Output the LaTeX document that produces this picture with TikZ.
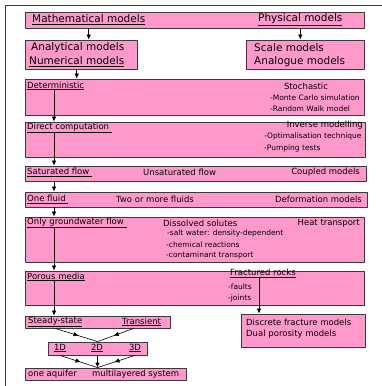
\documentclass[tikz,border=0pt]{standalone}
\usepackage{fontspec}
\setmainfont{DejaVu Sans}
\usetikzlibrary{arrows.meta,decorations.markings}
\definecolor{boxpink}{HTML}{FF99CC}
\definecolor{boxline}{HTML}{3A3A3A}
\newcommand{\bigtxt}{\fontsize{10.5}{12}\selectfont}
\newcommand{\midtxt}{\fontsize{8.5}{10}\selectfont}
\newcommand{\smalltxt}{\fontsize{7.5}{9}\selectfont}
\begin{document}
\begin{tikzpicture}[x=1pt, y=-1pt, line join=round, >={Latex[length=5pt,width=4.5pt]},
    box/.style={draw=boxline, fill=boxpink, line width=0.8pt, inner sep=0pt},
    lbl/.style={inner sep=0pt, anchor=west, font=\midtxt},
    big/.style={inner sep=0pt, anchor=west, font=\bigtxt},
    sml/.style={inner sep=0pt, anchor=west, font=\smalltxt},
    arr/.style={->, line width=0.7pt},
    midarr/.style={line width=0.6pt, decoration={markings, mark=at position 0.55 with {\arrow{>}}}, postaction={decorate}}]
\useasboundingbox (0,0) rectangle (382,386);
% frame
\draw[line width=1pt, boxline] (5,386) -- (5,5) -- (382,5);
% boxes
\node[box, minimum width=339pt, minimum height=16pt] (top) at (194.5,20) {};
\node[box, minimum width=112pt, minimum height=29pt] (ana) at (81,54.5) {};
\node[box, minimum width=118pt, minimum height=29pt] (scale) at (305,54.5) {};
\node[box, minimum width=339pt, minimum height=36pt] (det) at (194.5,97) {};
\node[box, minimum width=340pt, minimum height=35pt] (dir) at (195,139.5) {};
\node[box, minimum width=341pt, minimum height=15pt] (sat) at (195.5,173.5) {};
\node[box, minimum width=342pt, minimum height=15pt] (fluid) at (196,199.5) {};
\node[box, minimum width=339pt, minimum height=45pt] (gw) at (194.5,239.5) {};
\node[box, minimum width=339pt, minimum height=34pt] (por) at (194.5,288) {};
\node[box, minimum width=124pt, minimum height=33pt] (frac) at (303,330.5) {};
\node[box, minimum width=145pt, minimum height=12pt] (steady) at (97.5,322) {};
\node[box, minimum width=99pt, minimum height=13pt] (dim) at (97.5,348.5) {};
\node[box, minimum width=161pt, minimum height=12pt] (aq) at (105.5,374) {};
% texts
\node[big] (math) at (32,20) {\underline{Mathematical models}};
\node[big] (phys) at (258,20) {\underline{Physical models}};
\node[big] (anatxt) at (31,47.5) {Analytical models};
\node[big] (numtxt) at (29,61.5) {\underline{Numerical models}};
\node[big] (scaletxt) at (254,47.5) {Scale models};
\node[big] (analogtxt) at (254,61.5) {Analogue models};
\node[lbl] (dettxt) at (27,86) {\underline{Deterministic}};
\node[lbl, anchor=center] (stoch) at (306,86) {Stochastic};
\node[sml] (monte) at (270,98) {-Monte Carlo simulation};
\node[sml] (walk) at (270,109) {-Random Walk model};
\node[lbl] (dirtxt) at (27,128) {\underline{Direct computation\ }};
\node[lbl, anchor=east] (inv) at (363,125.5) {Inverse modelling};
\node[sml] (optim) at (264,136) {-Optimalisation technique};
\node[sml] (pump) at (264,148) {-Pumping tests};
\node[lbl] (sattxt) at (27,172.5) {\underline{Saturated flow\ }};
\node[lbl] (unsat) at (143,172.5) {Unsaturated flow};
\node[lbl, anchor=east] (coupled) at (360,172.5) {Coupled models};
\node[lbl] (onefl) at (27,199.5) {\underline{One fluid\ }};
\node[lbl] (twofl) at (116,199.5) {Two or more fluids};
\node[lbl, anchor=east] (deform) at (362,199.5) {Deformation models};
\node[lbl] (gwtxt) at (27,223) {\underline{Only groundwater flow\ }};
\node[lbl] (solutes) at (163,223) {Dissolved solutes};
\node[lbl, anchor=east] (heat) at (360,223) {Heat transport};
\node[sml] (salt) at (167,233) {-salt water: density-dependent};
\node[sml] (chem) at (166,245) {-chemical reactions};
\node[sml] (contam) at (166,255.5) {-contaminant transport};
\node[lbl] (portxt) at (27,277) {\underline{Porous media}};
\node[lbl] (fractxt) at (230,273.5) {\underline{Fractured rocks}};
\node[sml] (faults) at (228,286.5) {-faults};
\node[sml] (joints) at (228,298.5) {-joints};
\node[lbl] (discrete) at (246,322) {Discrete fracture models};
\node[lbl] (dual) at (246,334) {Dual porosity models};
\node[lbl] (sstxt) at (28,322) {\underline{Steady-state}};
\node[lbl] (trtxt) at (122,322) {\underline{Transient}};
\node[lbl, anchor=center] (d1) at (60,348) {\underline{1D}};
\node[lbl, anchor=center] (d2) at (97,348) {\underline{2D}};
\node[lbl, anchor=center] (d3) at (135,348) {\underline{3D}};
\node[lbl] (oneaq) at (28,374.5) {one aquifer};
\node[lbl] (multi) at (92,374.5) {multilayered system};
% connectors
\coordinate (spine) at (54,0);
\draw[arr] (math.south |- top.south) -- (math.south |- ana.north);
\draw[arr] (phys.south |- top.south) -- (phys.south |- scale.north);
\draw[arr] (numtxt.south |- ana.south) -- (numtxt.south |- det.north);
\draw[arr] (spine |- dettxt.south) -- (spine |- dir.north);
\draw[arr] (spine |- dirtxt.south) -- (spine |- sat.north);
\draw[arr] (spine |- sat.south) -- (spine |- fluid.north);
\draw[arr] (spine |- fluid.south) -- (spine |- gw.north);
\draw[arr] (spine |- gwtxt.south) -- (spine |- por.north);
\draw[arr] (spine |- portxt.south) -- (spine |- steady.north);
\draw[arr] ([xshift=-4pt]fractxt.south) -- ([xshift=-4pt]fractxt.south |- frac.north);
\draw[midarr] (sstxt.south |- steady.south) -- (dim.north);
\draw[midarr] ([xshift=-8pt]trtxt.south |- steady.south) -- (dim.north);
\draw[midarr] (d1.south |- dim.south) -- (dim.south |- aq.north);
\draw[arr] (dim.south) -- (dim.south |- aq.north);
\draw[midarr] (d3.south |- dim.south) -- (dim.south |- aq.north);
\end{tikzpicture}
\end{document}
